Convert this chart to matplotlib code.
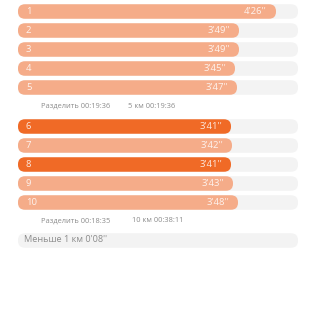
import matplotlib
matplotlib.use("Agg")
import matplotlib.pyplot as plt
from matplotlib.patches import FancyBboxPatch

plt.rcParams['font.family'] = ['Open Sans', 'DejaVu Sans']

# Data
km_labels = ["1", "2", "3", "4", "5", "6", "7", "8", "9", "10"]
pace_labels = ["4'26''", "3'49''", "3'49''", "3'45''", "3'47''",
               "3'41''", "3'42''", "3'41''", "3'43''", "3'48''"]
pace_seconds = [266, 229, 229, 225, 227, 221, 222, 221, 223, 228]
highlight = [False, False, False, False, False, True, False, True, False, False]
split_texts = [("Разделить 00:19:36", "5 км 00:19:36"),
               ("Разделить 00:18:35", "10 км 00:38:11")]
remainder_text = "Меньше 1 км 0'08''"

LIGHT = "#F5AC89"
DARK = "#F06A26"
TRACK = "#F3F3F3"
GREY = "#8C8C8C"

W = H = 317
fig = plt.figure(figsize=(W / 100, H / 100), dpi=100)
ax = fig.add_axes([0, 0, 1, 1])
ax.set_xlim(-10, W - 10)
ax.set_ylim(H, 0)
ax.axis("off")

base = 8        # bar start (seconds scale)
track_end = 288
bar_h = 14.5
r = 7

def rbox(x0, x1, yc, color):
    p = FancyBboxPatch((x0, yc - bar_h / 2), x1 - x0, bar_h,
                       boxstyle=f"round,pad=0,rounding_size={r}",
                       fc=color, ec="none", mutation_aspect=1)
    ax.add_patch(p)

group_start = [11.5, 126.5]
step = 19
for i, (lab, pl, sec, hl) in enumerate(zip(km_labels, pace_labels, pace_seconds, highlight)):
    g, j = divmod(i, 5)
    yc = group_start[g] + step * j
    rbox(base, track_end, yc, TRACK)
    rbox(base, sec, yc, DARK if hl else LIGHT)
    ax.text(base + 8, yc + 0.3, lab, color="white", fontsize=6.8, va="center", ha="left", alpha=0.85)
    ax.text(sec - 9, yc + 0.3, pl, color="white", fontsize=6.8, va="center", ha="right", alpha=0.85)

for g, (a, b) in enumerate(split_texts):
    y = group_start[g] + step * 5 - 0.5
    ax.text(31, y, a, color=GREY, fontsize=5.4, va="center", ha="left")
    ax.text(118 if g == 0 else 122, y, b, color=GREY, fontsize=5.4, va="center", ha="left")

yc = 240.5
rbox(base, track_end, yc, TRACK)
ax.text(base + 6, yc - 0.5, remainder_text, color=GREY, fontsize=6.6, va="center", ha="left")

fig.savefig("out.png", dpi=100, facecolor="white")
